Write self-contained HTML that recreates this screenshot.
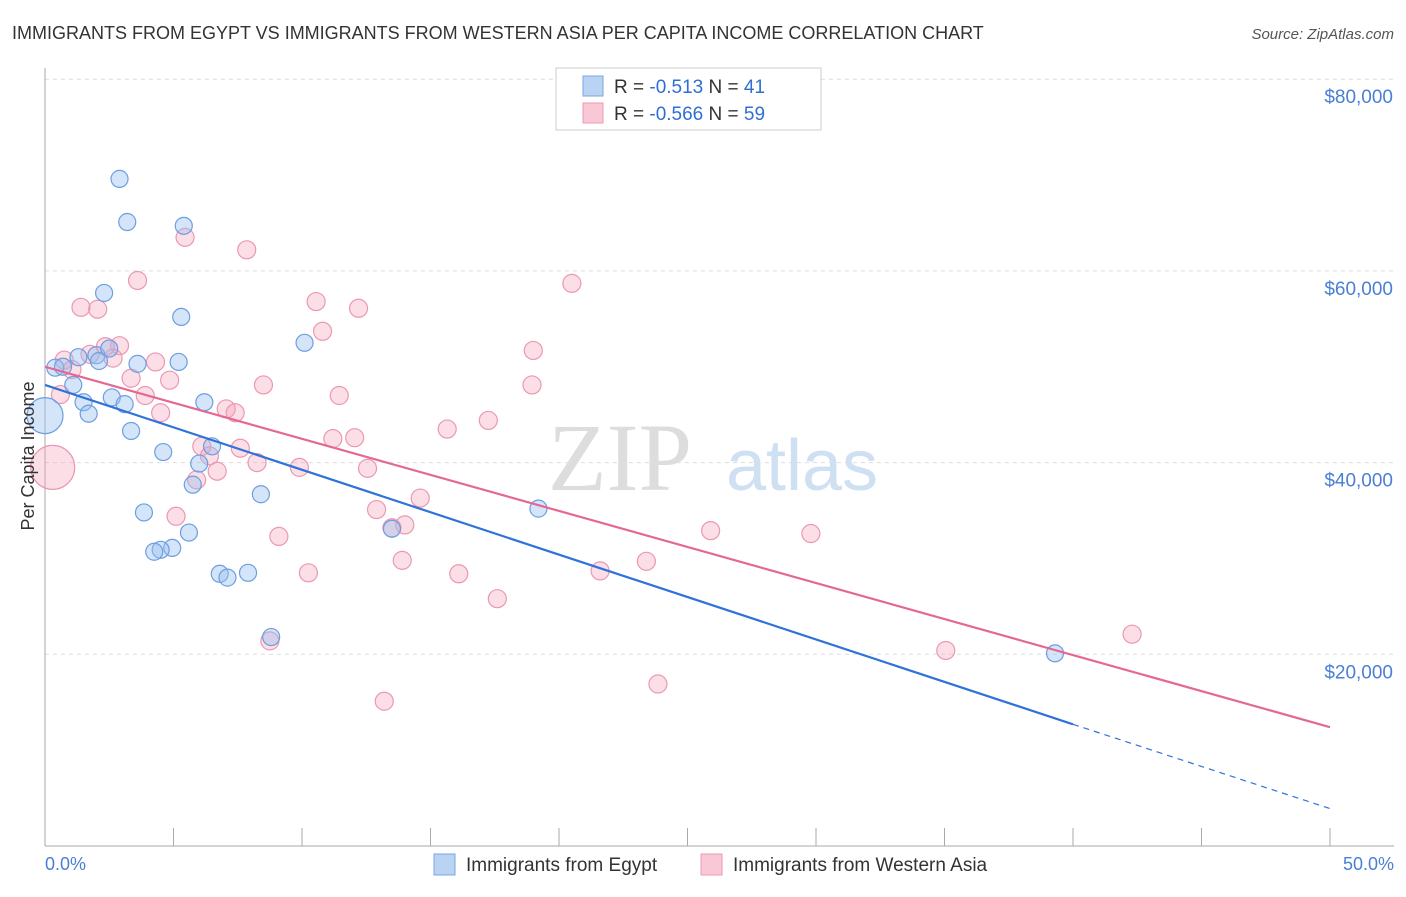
<!DOCTYPE html>
<html><head><meta charset="utf-8"><style>
body{margin:0;background:#fff;font-family:"Liberation Sans",sans-serif;}
</style></head><body>
<svg id="chart" width="1406" height="892" xmlns="http://www.w3.org/2000/svg">
<text x="12" y="39" font-size="18" fill="#333">IMMIGRANTS FROM EGYPT VS IMMIGRANTS FROM WESTERN ASIA PER CAPITA INCOME CORRELATION CHART</text>
<text x="1394" y="39" font-size="15" fill="#555" font-style="italic" text-anchor="end">Source: ZipAtlas.com</text>
<text x="620" y="490" font-size="96" fill="#ddd" font-family="Liberation Serif,serif" text-anchor="middle">ZIP</text>
<text x="802" y="490" font-size="72" fill="#cfe0f3" text-anchor="middle">atlas</text>
<g id="grid"></g><g id="axes"></g><g id="pts"></g><g id="lines"></g>
<text transform="translate(34,456) rotate(-90)" font-size="18" fill="#333" text-anchor="middle">Per Capita Income</text>
<text x="45" y="870" font-size="18" fill="#4a7fd4">0.0%</text>
<text x="1394" y="870" font-size="18" fill="#4a7fd4" text-anchor="end">50.0%</text>
<g>
<rect x="556" y="68" width="265" height="62" fill="#fff" stroke="#ccc"/>
<rect x="583" y="76" width="20" height="20" fill="#b9d3f3" stroke="#7aa6e0"/>
<rect x="583" y="103" width="20" height="20" fill="#f8c8d6" stroke="#eb98b2"/>
<text x="614" y="93" font-size="19" fill="#333">R = <tspan fill="#2f6fd4">-0.513</tspan>   N = <tspan fill="#2f6fd4">41</tspan></text>
<text x="614" y="120" font-size="19" fill="#333">R = <tspan fill="#2f6fd4">-0.566</tspan>   N = <tspan fill="#2f6fd4">59</tspan></text>
</g>
<g>
<rect x="434" y="854" width="21" height="21" fill="#b9d3f3" stroke="#7aa6e0"/>
<text x="466" y="871" font-size="19" fill="#333">Immigrants from Egypt</text>
<rect x="701" y="854" width="21" height="21" fill="#f8c8d6" stroke="#eb98b2"/>
<text x="733" y="871" font-size="19" fill="#333">Immigrants from Western Asia</text>
</g>
</svg>
<script>
const yTicks=[20000,40000,60000,80000];
const yTickLabels=["$20,000","$40,000","$60,000","$80,000"];
const egyptX=[2.9,3.2,5.4,2.3,5.3,10.1,2.0,1.3,2.5,3.6,5.2,0.4,0.7,2.1,1.1,2.6,3.1,1.5,1.7,6.2,3.35,4.6,6.5,6.0,5.75,8.4,3.85,5.6,4.95,4.5,4.25,6.8,7.1,7.9,8.8,13.5,19.2,39.3,0.0];
const egyptY=[69600,65100,64700,57700,55200,52500,51200,51000,51900,50300,50500,49900,50000,50600,48100,46800,46100,46300,45100,46300,43300,41100,41700,39900,37700,36700,34800,32700,31100,30900,30700,28400,28000,28500,21800,33100,35200,20100,44900];
const waX=[3.6,1.4,2.05,5.45,7.85,20.5,10.55,12.2,10.8,19.0,2.9,2.65,0.75,1.05,4.3,3.35,4.85,8.5,11.45,18.95,3.9,4.5,7.05,7.4,17.25,15.65,11.2,12.05,6.1,7.6,6.4,8.25,9.9,12.55,6.7,5.9,14.6,12.9,5.1,9.1,13.5,14.0,13.9,10.25,16.1,21.6,23.4,25.9,29.8,17.6,8.75,35.05,42.3,23.85,13.2,0.3,0.6,2.35,1.75];
const waY=[59000,56200,56000,63500,62200,58700,56800,56100,53700,51700,52200,50900,50700,49700,50500,48800,48600,48100,47000,48100,47000,45200,45600,45200,44400,43500,42500,42600,41700,41500,40700,40000,39500,39400,39100,38200,36300,35100,34400,32300,33200,33500,29800,28500,28400,28700,29700,32900,32600,25800,21400,20400,22100,16900,15100,39500,47100,52100,51300];
const waR=Array(59).fill(9);waR[55]=22;
const egR=Array(39).fill(8.5);egR[38]=18;
const trendEgypt=[[0,48100],[40,12700],[50,3900]];
const trendWA=[[0,50000],[50,12400]];
const NS="http://www.w3.org/2000/svg";
const X=v=>45+v/50*1285, Y=v=>846-v/20000*191.7;
function mk(tag,attrs,parent){const e=document.createElementNS(NS,tag);for(const k in attrs)e.setAttribute(k,attrs[k]);document.getElementById(parent).appendChild(e);return e;}
yTicks.forEach((t,i)=>{
 const g=mk('line',{x1:45,x2:1394,y1:Y(t),y2:Y(t),stroke:'#ddd','stroke-dasharray':'4,4'},'grid');
 
 
 const tx=mk('text',{x:1393,y:Y(t)+24,'font-size':19,fill:'#4a7fd4','text-anchor':'end'},'grid');
 tx.textContent=yTickLabels[i];
 
 
});
mk('line',{x1:45,x2:45,y1:68,y2:846,stroke:'#aaa'},'axes');
mk('line',{x1:45,x2:1394,y1:846,y2:846,stroke:'#aaa'},'axes');
for(let i=0;i<=10;i++){const t=mk('line',{x1:X(i*5),x2:X(i*5),y1:828,y2:846,stroke:'#aaa'},'axes');
 
 }
waX.forEach((x,i)=>{const c=mk('circle',{cx:X(x),cy:Y(waY[i]),r:waR[i],fill:'rgba(245,160,185,0.35)',stroke:'#eb98b2','stroke-width':1.2},'pts');
 
 });
egyptX.forEach((x,i)=>{const c=mk('circle',{cx:X(x),cy:Y(egyptY[i]),r:egR[i],fill:'rgba(150,190,240,0.4)',stroke:'#6d9ee0','stroke-width':1.2},'pts');
 
 });
let l=mk('line',{x1:X(trendEgypt[0][0]),y1:Y(trendEgypt[0][1]),x2:X(trendEgypt[1][0]),y2:Y(trendEgypt[1][1]),stroke:'#2f73d8','stroke-width':2.2},'lines');


l=mk('line',{x1:X(trendEgypt[1][0]),y1:Y(trendEgypt[1][1]),x2:X(trendEgypt[2][0]),y2:Y(trendEgypt[2][1]),stroke:'#2f73d8','stroke-width':1.2,'stroke-dasharray':'6,5'},'lines');


l=mk('line',{x1:X(trendWA[0][0]),y1:Y(trendWA[0][1]),x2:X(trendWA[1][0]),y2:Y(trendWA[1][1]),stroke:'#e46892','stroke-width':2.2},'lines');


</script>
</body></html>
